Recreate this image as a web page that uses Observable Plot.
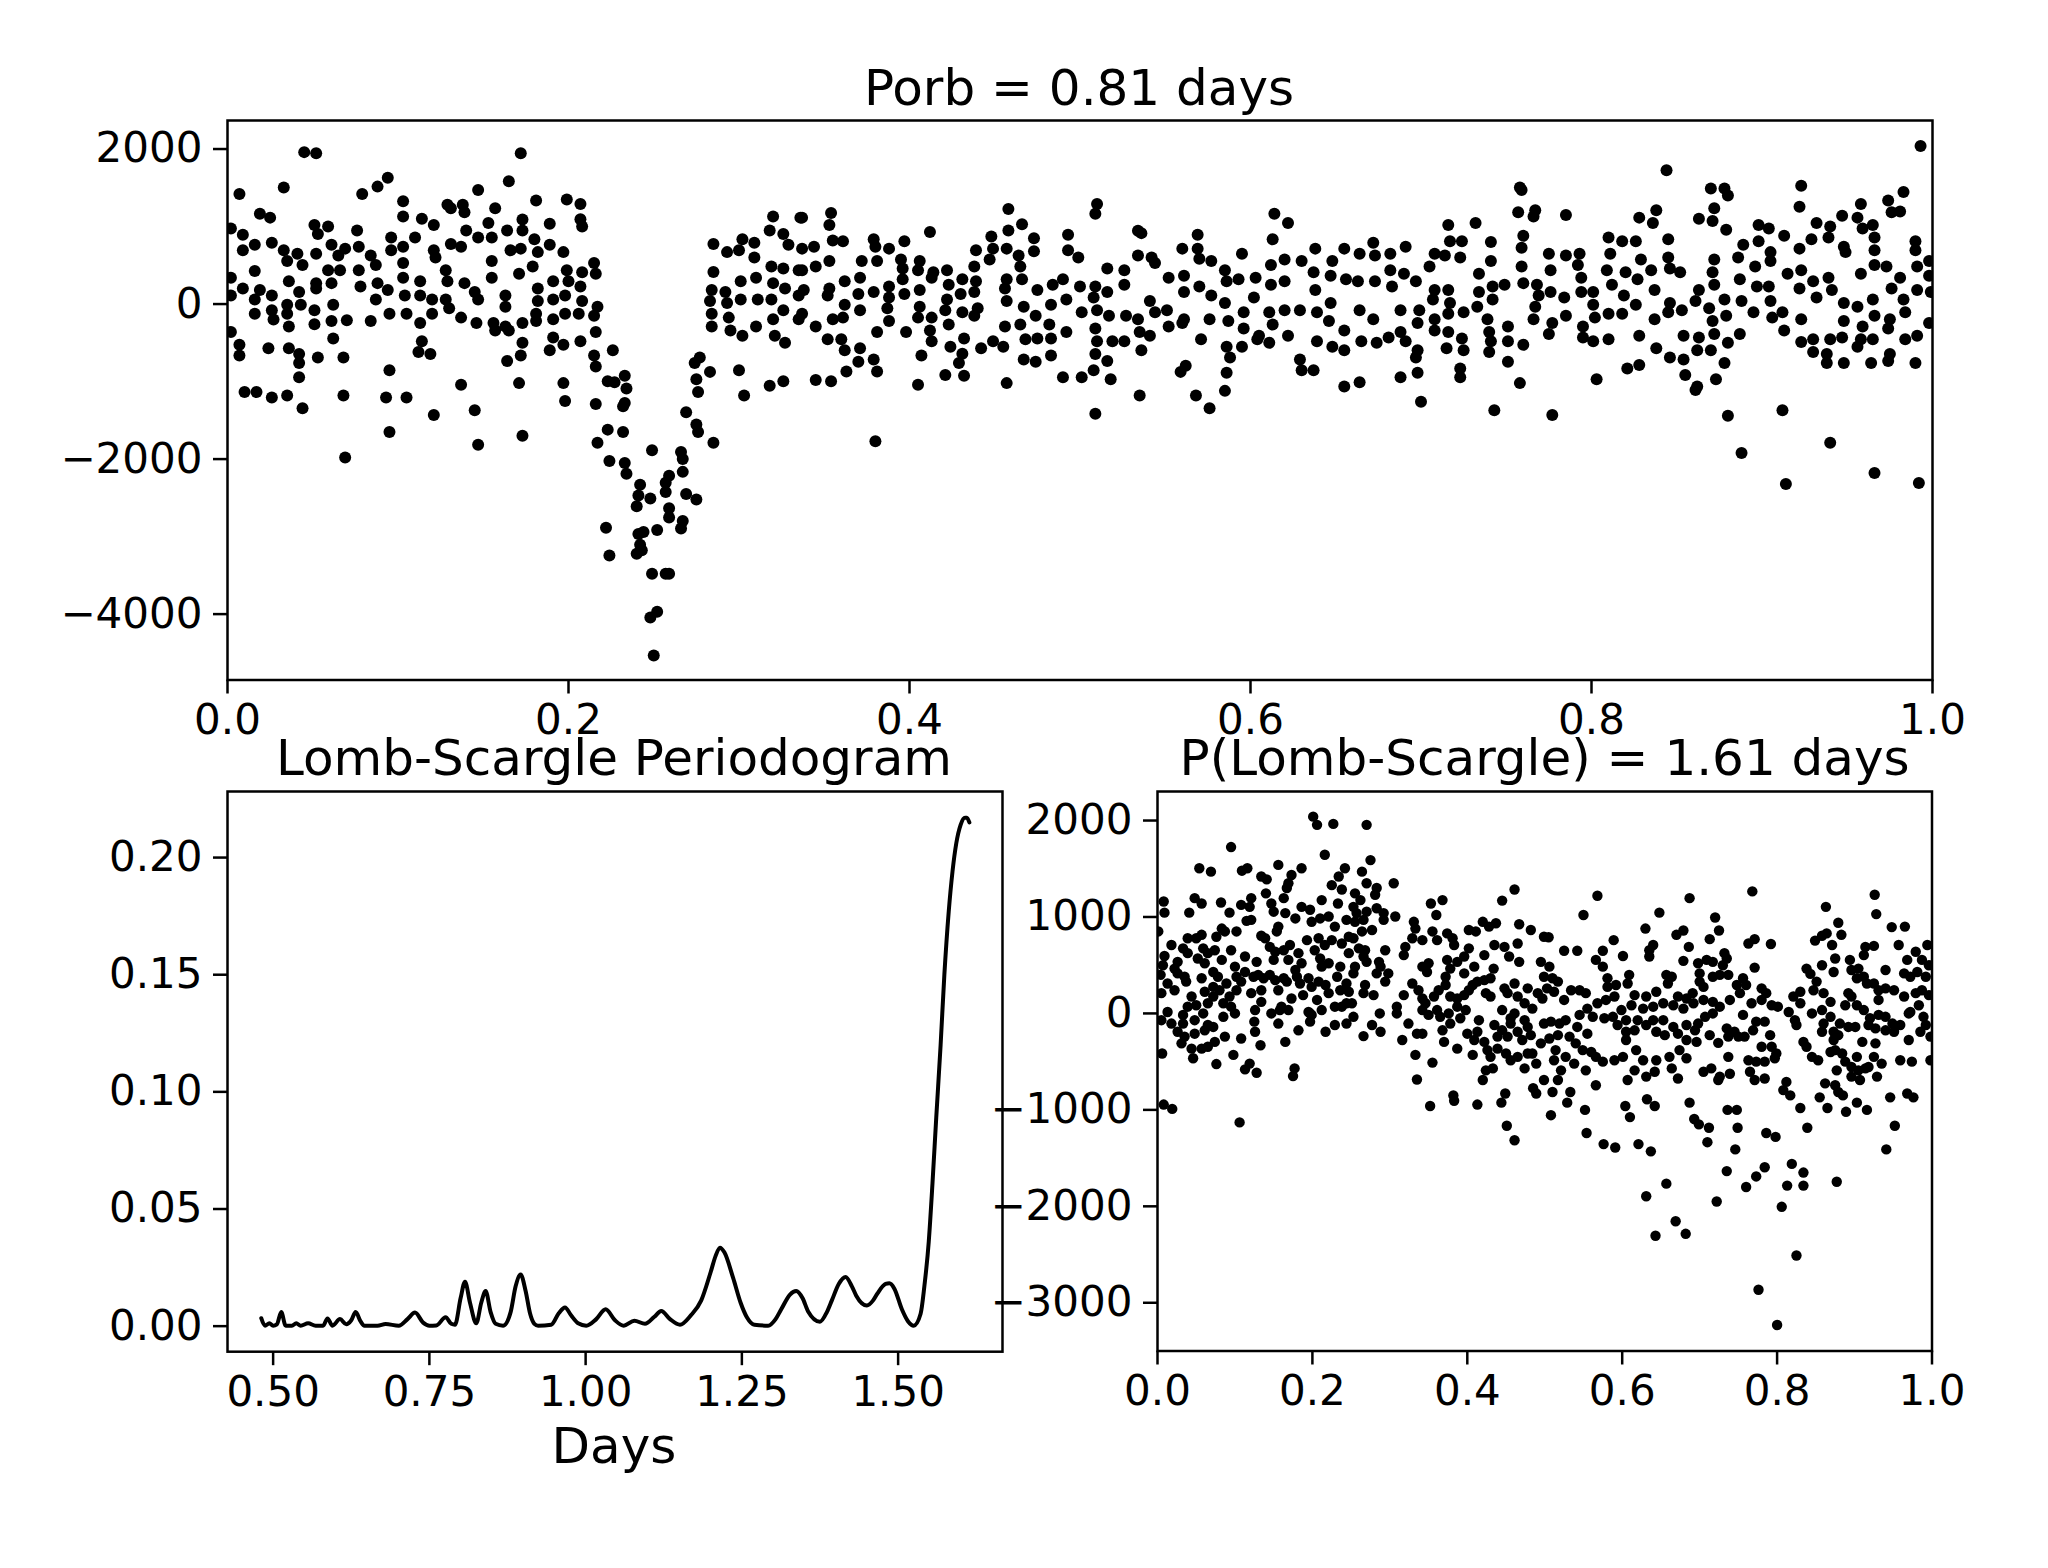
<!DOCTYPE html>
<html><head><meta charset="utf-8">
<script src="https://cdn.jsdelivr.net/npm/d3@7"></script>
<script src="https://cdn.jsdelivr.net/npm/@observablehq/plot@0.6"></script>
<style>
body{margin:0;background:#fff;}
#c{position:relative;width:2048px;height:1568px;background:#fff;font-family:"DejaVu Sans";overflow:hidden;}
.t{position:absolute;text-align:center;font-size:50px;line-height:50px;white-space:nowrap;color:#000;font-family:"DejaVu Sans";}
.p{position:absolute;}
.p svg{display:block;overflow:visible;}
</style></head><body><div id="c"></div>
<script>
// ---------- text ----------
const titleOrb = "Porb = 0.81 days";
const titleLS = "Lomb-Scargle Periodogram";
const titleLSFold = "P(Lomb-Scargle) = 1.61 days";
const xLabelLS = "Days";

// ---------- tick values ----------
const orbXTicks = [0, 0.2, 0.4, 0.6, 0.8, 1.0];
const orbYTicks = [-4000, -2000, 0, 2000];
const lsXTicks = [0.5, 0.75, 1.0, 1.25, 1.5];
const lsYTicks = [0, 0.05, 0.10, 0.15, 0.20];
const foldXTicks = [0, 0.2, 0.4, 0.6, 0.8, 1.0];
const foldYTicks = [-3000, -2000, -1000, 0, 1000, 2000];

// ---------- data: light curve folded on Porb (phase, flux) ----------
const orbFold = [
[0.002,975],[0.002,340],[0.002,110],[0.002,-360],[0.007,1420],[0.009,895],[0.009,695],[0.009,200],[0.007,-525],[0.007,-665],[0.010,-1135],
[0.016,765],[0.016,425],[0.016,60],[0.016,-125],[0.019,1165],[0.019,180],[0.025,1115],[0.026,790],[0.026,110],[0.026,-80],[0.027,-200],[0.024,-570],[0.017,-1135],[0.026,-1205],
[0.033,1505],[0.033,695],[0.035,555],[0.036,295],[0.035,-10],[0.035,-125],[0.036,-290],[0.036,-570],[0.042,-645],[0.042,-760],[0.042,-945],[0.035,-1180],[0.044,-1345],[0.041,650],[0.044,505],[0.042,155],[0.043,-10],
[0.045,1960],[0.052,1945],[0.051,1020],[0.053,905],[0.052,650],[0.052,270],[0.052,200],[0.051,-80],[0.051,-260],[0.053,-690],[0.059,1000],[0.061,765],[0.059,435],[0.061,270],[0.062,-10],[0.061,-220],[0.062,-445],[0.068,-690],[0.068,-1180],[0.069,-1980],
[0.065,625],[0.066,435],[0.069,715],[0.070,-210],[0.076,950],[0.077,740],[0.077,435],[0.078,225],[0.079,1420],[0.084,625],[0.084,-220],[0.087,505],[0.088,1515],[0.088,270],[0.087,60],[0.094,1630],[0.094,180],[0.095,-125],[0.095,-855],[0.093,-1205],[0.095,-1650],[0.096,860],[0.096,695],
[0.103,1325],[0.103,1130],[0.103,740],[0.103,530],[0.103,340],[0.104,110],[0.105,-125],[0.105,-1205],[0.110,860],[0.113,295],[0.113,110],[0.113,-245],[0.114,1100],[0.114,-480],[0.112,-620],[0.119,-645],[0.120,60],[0.120,-125],[0.121,1020],[0.121,695],[0.122,600],[0.121,-1430],
[0.129,1280],[0.131,1235],[0.131,775],[0.128,435],[0.129,295],[0.128,60],[0.130,-55],[0.137,740],[0.138,1280],[0.139,1185],[0.139,270],[0.140,950],[0.137,-175],[0.137,-1040],[0.145,155],[0.147,60],[0.146,-245],[0.145,-1370],[0.147,1470],[0.147,860],[0.147,-1815],
[0.153,1045],[0.155,860],[0.155,555],[0.155,340],[0.157,1235],[0.156,-245],[0.157,-340],[0.163,-290],[0.165,-340],[0.164,950],[0.165,1585],[0.166,695],[0.163,110],[0.163,-35],[0.164,-735],[0.171,390],[0.171,-1020],[0.172,1945],[0.173,1090],[0.173,950],[0.172,715],[0.173,-245],[0.173,-500],[0.172,-665],[0.173,-1700],
[0.181,1335],[0.180,835],[0.179,485],[0.182,670],[0.182,200],[0.182,40],[0.181,-125],[0.181,-220],[0.189,1035],[0.189,765],[0.191,295],[0.191,60],[0.191,-195],[0.191,-430],[0.189,-595],[0.197,670],[0.197,-525],[0.197,-1020],[0.198,-1250],
[0.199,1350],[0.207,1290],[0.208,1000],[0.207,1095],[0.199,435],[0.200,295],[0.198,110],[0.198,-125],[0.208,410],[0.207,225],[0.208,40],[0.206,-125],[0.207,-480],[0.215,530],[0.216,390],[0.217,-35],[0.215,-150],[0.216,-360],[0.215,-665],[0.216,-805],[0.216,-1290],[0.217,-1790],
[0.226,-595],[0.223,-995],[0.227,-1010],[0.233,-925],[0.234,-1090],[0.233,-1275],[0.232,-1320],[0.223,-1620],[0.232,-1650],[0.224,-2025],[0.233,-2050],[0.234,-2190],[0.222,-2885],[0.224,-3245],
[0.242,-2330],[0.241,-2470],[0.248,-2510],[0.240,-2610],[0.241,-2965],[0.244,-2940],[0.242,-3105],[0.243,-3175],[0.240,-3220],[0.249,-1885],[0.252,-2915],[0.249,-3480],[0.259,-3480],[0.257,-3480],[0.248,-4045],[0.252,-3970],[0.250,-4535],
[0.259,-2215],[0.257,-2305],[0.257,-2425],[0.259,-2635],[0.259,-2755],[0.266,-1910],[0.267,-2000],[0.267,-2165],[0.269,-2450],[0.275,-2520],[0.267,-2800],[0.266,-2895],[0.269,-1395],[0.275,-1555],[0.276,-1650],[0.285,-1790],
[0.277,-690],[0.274,-760],[0.275,-970],[0.276,-1135],[0.283,-875],[0.285,775],[0.285,415],[0.284,180],[0.283,40],[0.284,-125],[0.284,-290],
[0.293,670],[0.292,155],[0.293,15],[0.294,-175],[0.295,-340],[0.300,695],[0.301,295],[0.302,835],[0.301,60],[0.302,-410],[0.300,-855],[0.303,-1180],[0.309,600],[0.309,790],[0.310,340],[0.311,60],[0.310,-290],
[0.318,950],[0.320,1130],[0.319,485],[0.320,270],[0.319,60],[0.320,-195],[0.321,-410],[0.318,-1055],[0.326,905],[0.329,765],[0.326,460],[0.327,200],[0.326,-80],[0.327,-500],[0.326,-995],[0.335,435],[0.336,1115],[0.337,715],[0.335,110],[0.335,-195],[0.338,180],
[0.337,1115],[0.337,435],[0.337,-125],[0.344,740],[0.345,485],[0.345,-290],[0.345,-980],[0.354,1175],[0.353,1020],[0.355,820],[0.353,555],[0.353,200],[0.352,110],[0.355,-195],[0.352,-455],[0.354,-995],
[0.361,810],[0.362,295],[0.362,-10],[0.361,-175],[0.360,-455],[0.362,-595],[0.363,-870],[0.372,555],[0.371,340],[0.370,130],[0.371,-80],[0.371,-570],[0.370,-745],
[0.379,835],[0.380,740],[0.381,555],[0.379,155],[0.381,-360],[0.379,-715],[0.381,-870],[0.380,-1770],[0.388,715],[0.388,225],[0.388,85],[0.387,-55],[0.388,-220],
[0.397,810],[0.395,575],[0.396,460],[0.397,130],[0.396,320],[0.398,-360],[0.406,555],[0.405,435],[0.406,180],[0.406,-35],[0.405,-175],[0.407,-665],[0.405,-1040],
[0.412,930],[0.413,340],[0.413,-175],[0.412,-340],[0.413,-480],[0.414,410],[0.422,435],[0.423,250],[0.422,60],[0.421,-80],[0.423,-265],[0.424,-550],[0.421,-915],
[0.431,320],[0.430,130],[0.431,-105],[0.432,-445],[0.431,-640],[0.429,-760],[0.432,-925],[0.439,695],[0.438,485],[0.439,295],[0.438,155],[0.440,-55],[0.438,-150],[0.442,-570],
[0.448,870],[0.449,715],[0.447,575],[0.449,-480],[0.455,-550],[0.458,1225],[0.458,950],[0.457,715],[0.457,320],[0.456,200],[0.457,40],[0.456,-290],[0.457,-1020],
[0.466,1030],[0.464,625],[0.465,485],[0.466,320],[0.467,-35],[0.465,-265],[0.468,-455],[0.467,-715],[0.473,850],[0.473,680],[0.475,180],[0.474,-150],[0.475,-445],[0.474,-745],
[0.484,250],[0.483,-10],[0.482,-265],[0.483,-445],[0.483,-665],[0.490,-945],[0.493,895],[0.493,695],[0.490,320],[0.492,60],[0.492,-360],
[0.499,600],[0.500,225],[0.501,-105],[0.501,-945],[0.508,-855],[0.510,1290],[0.509,1165],[0.509,225],[0.508,85],[0.510,-80],[0.509,-315],[0.510,-480],[0.509,-645],[0.509,-1415],
[0.516,460],[0.516,155],[0.517,-150],[0.519,-480],[0.516,-735],[0.518,-970],[0.526,435],[0.526,250],[0.527,-150],[0.526,-480],
[0.534,945],[0.536,915],[0.534,625],[0.534,-195],[0.535,-360],[0.536,-595],[0.535,-1180],[0.542,600],[0.544,530],[0.541,40],[0.544,-105],[0.541,-410],
[0.552,340],[0.551,-80],[0.552,-290],[0.560,715],[0.561,365],[0.561,155],[0.561,-195],[0.560,-245],[0.559,-875],[0.562,-795],
[0.569,895],[0.569,715],[0.570,585],[0.570,225],[0.571,-455],[0.568,-1180],[0.576,-1345],[0.577,555],[0.577,110],[0.576,-195],
[0.585,435],[0.586,295],[0.585,15],[0.587,-220],[0.586,-550],[0.588,-690],[0.586,-885],[0.585,-1120],[0.595,650],[0.593,320],[0.596,-105],[0.596,-315],[0.595,-550],
[0.602,85],[0.603,340],[0.604,-455],[0.605,-410],[0.611,-500],[0.612,505],[0.612,250],[0.613,835],[0.614,1165],[0.611,-105],[0.613,-265],
[0.622,1045],[0.620,575],[0.620,295],[0.620,-80],[0.622,-410],[0.629,-715],[0.630,-855],[0.630,555],[0.629,-80],[0.637,-855],[0.638,715],[0.637,410],[0.638,180],[0.639,-105],[0.639,-480],
[0.648,555],[0.647,365],[0.647,15],[0.646,-220],[0.648,-550],[0.655,715],[0.656,320],[0.655,-340],[0.655,-595],[0.655,-1065],
[0.664,650],[0.663,295],[0.664,-80],[0.665,-480],[0.664,-1010],[0.672,790],[0.673,625],[0.673,295],[0.672,-195],[0.674,-500],
[0.681,-430],[0.682,650],[0.682,435],[0.683,225],[0.690,390],[0.691,740],[0.688,-80],[0.688,-360],[0.691,-480],[0.688,-945],
[0.697,295],[0.698,-245],[0.699,-80],[0.698,-595],[0.697,-690],[0.698,-885],[0.700,-1260],[0.705,485],[0.708,650],[0.708,180],[0.707,60],[0.708,-195],[0.708,-340],
[0.716,1020],[0.717,810],[0.714,625],[0.716,180],[0.717,15],[0.716,-125],[0.716,-360],[0.715,-570],[0.724,810],[0.723,600],[0.725,-105],[0.724,-445],[0.725,-595],[0.723,-830],[0.723,-945],
[0.732,1045],[0.734,390],[0.734,155],[0.733,-35],[0.741,800],[0.741,555],[0.742,225],[0.742,60],[0.739,-195],[0.740,-360],[0.741,-480],[0.740,-620],[0.743,-1370],
[0.749,250],[0.751,-290],[0.751,-480],[0.751,-745],[0.758,1505],[0.759,1470],[0.757,1185],[0.767,1210],[0.766,1130],[0.760,880],[0.759,725],[0.759,485],[0.760,270],[0.760,-525],[0.758,-1020],
[0.768,250],[0.767,-35],[0.766,-195],[0.769,110],[0.775,650],[0.776,435],[0.776,155],[0.777,-245],[0.775,-385],[0.777,-1430],
[0.784,85],[0.785,1150],[0.785,-150],[0.785,625],[0.793,650],[0.792,505],[0.794,340],[0.794,155],[0.795,-290],[0.795,-430],
[0.801,155],[0.801,-10],[0.802,-175],[0.801,-480],[0.803,-970],[0.810,860],[0.811,650],[0.809,435],[0.812,250],[0.810,-125],[0.810,-455],
[0.818,810],[0.820,410],[0.819,110],[0.818,-125],[0.821,-830],[0.826,810],[0.828,1115],[0.827,320],[0.829,575],[0.826,-10],[0.828,-410],[0.828,-785],
[0.836,1045],[0.838,1210],[0.835,435],[0.837,-195],[0.837,180],[0.838,-570],[0.844,1725],[0.845,835],[0.845,600],[0.846,460],[0.846,15],[0.845,-105],[0.846,-690],
[0.852,410],[0.853,-80],[0.854,-410],[0.854,-715],[0.855,-915],[0.861,-1110],[0.862,-1065],[0.863,180],[0.863,1100],[0.861,40],[0.863,-430],[0.862,-595],
[0.870,-595],[0.869,-55],[0.870,1490],[0.872,1235],[0.871,1070],[0.872,575],[0.871,410],[0.872,250],[0.871,-220],[0.872,-385],[0.873,-970],
[0.878,1490],[0.880,1400],[0.879,960],[0.878,60],[0.879,-150],[0.880,-500],[0.878,-760],[0.880,-1440],[0.888,-1920],[0.887,320],[0.886,600],[0.889,765],[0.888,40],[0.887,-385],
[0.896,485],[0.897,225],[0.895,-105],[0.898,1020],[0.898,810],[0.904,975],[0.905,670],[0.905,555],[0.904,225],[0.905,40],[0.906,-175],
[0.913,880],[0.912,-105],[0.913,-340],[0.912,-1370],[0.914,-2320],[0.915,390],[0.922,715],[0.923,1525],[0.922,1255],[0.923,435],[0.922,200],[0.923,-195],[0.923,-490],
[0.932,1045],[0.929,835],[0.930,295],[0.932,85],[0.930,-455],[0.930,-620],[0.938,-645],[0.938,-760],[0.939,860],[0.940,1000],[0.939,340],[0.941,180],[0.940,-455],[0.940,-1790],
[0.947,1140],[0.948,740],[0.949,670],[0.948,15],[0.948,-220],[0.947,-430],[0.948,-760],[0.956,1115],[0.958,1290],[0.959,975],[0.958,390],[0.956,-35],[0.959,-290],[0.956,-550],[0.958,-455],
[0.965,1020],[0.966,860],[0.966,695],[0.966,505],[0.965,60],[0.966,-150],[0.965,-455],[0.964,-760],[0.966,-2180],[0.974,1335],[0.976,1185],[0.975,-195],[0.974,-315],[0.975,-645],[0.974,-735],[0.973,485],[0.976,200],
[0.983,1445],[0.981,1195],[0.981,340],[0.983,60],[0.984,-105],[0.984,-455],[0.990,810],[0.990,695],[0.991,485],[0.991,180],[0.991,-410],[0.990,-760],[0.992,-2310],[0.993,2040],
[0.998,555],[0.998,365],[0.999,155],[0.998,-245]
];

// ---------- data: Lomb-Scargle periodogram (period in days, power) ----------
const lsPeriod = [
0.481,0.487,0.494,0.500,0.506,0.513,0.520,0.530,0.537,0.544,
0.556,0.568,0.580,0.587,0.595,0.607,0.617,0.625,0.632,0.640,
0.646,0.667,0.680,0.701,0.715,0.727,0.740,0.750,0.761,0.776,
0.785,0.791,0.800,0.807,0.815,0.825,0.833,0.840,0.848,0.856,
0.868,0.880,0.888,0.896,0.904,0.911,0.918,0.924,0.945,0.957,
0.967,0.977,0.988,1.001,1.017,1.032,1.047,1.061,1.078,1.095,
1.110,1.121,1.135,1.151,1.168,1.185,1.200,1.208,1.215,1.222,
1.236,1.248,1.258,1.270,1.292,1.304,1.313,1.327,1.337,1.347,
1.356,1.375,1.386,1.394,1.405,1.416,1.426,1.433,1.450,1.460,
1.467,1.480,1.486,1.494,1.506,1.516,1.525,1.536,1.542,1.549,
1.555,1.561,1.568,1.574,1.581,1.587,1.593,1.600,1.607,1.610,
1.614
];
const lsPower = [
0.0034,0.0002,0.0012,0.0002,0.0008,0.0060,0.0002,0.0002,0.0012,0.0002,
0.0012,0.0002,0.0002,0.0033,0.0002,0.0030,0.0008,0.0025,0.0060,0.0020,
0.0002,0.0002,0.0009,0.0002,0.0030,0.0058,0.0015,0.0002,0.0003,0.0038,
0.0010,0.0006,0.0120,0.0190,0.0100,0.0012,0.0100,0.0150,0.0060,0.0010,
0.0002,0.0060,0.0170,0.0220,0.0150,0.0055,0.0010,0.0002,0.0006,0.0055,
0.0080,0.0045,0.0012,0.0002,0.0030,0.0072,0.0025,0.0002,0.0023,0.0010,
0.0040,0.0065,0.0030,0.0006,0.0045,0.0110,0.0230,0.0300,0.0335,0.0315,
0.0206,0.0100,0.0038,0.0006,0.0002,0.0030,0.0072,0.0135,0.0150,0.0120,
0.0063,0.0019,0.0060,0.0110,0.0180,0.0210,0.0170,0.0130,0.0088,0.0110,
0.0140,0.0180,0.0183,0.0160,0.0072,0.0020,0.0002,0.0053,0.0170,0.0360,
0.0610,0.0890,0.1200,0.1500,0.1770,0.1940,0.2060,0.2140,0.2170,0.2170,
0.2150
];

// ---------- data: light curve folded on the Lomb-Scargle period (phase, flux) ----------
const lsFoldOutliers = [
[0.095,1725],[0.201,2040],[0.206,1955],[0.227,1965],[0.270,1955],
[0.008,-945],[0.019,-990],[0.106,-1130],[0.352,-960],[0.382,-850],[0.383,-905],[0.413,-945],[0.444,-925],[0.449,-830],[0.451,-1165],[0.461,-1315],[0.485,-775],[0.489,-830],
[0.508,-1055],[0.510,-815],[0.529,-925],[0.533,-815],[0.552,-1000],[0.554,-1240],[0.576,-1355],[0.591,-1390],[0.604,-960],[0.610,-1075],[0.621,-1355],[0.631,-1895],
[0.632,-890],[0.637,-1430],[0.642,-960],[0.643,-2305],[0.657,-1765],[0.669,-2155],[0.682,-2285],[0.687,-925],[0.693,-1095],[0.699,-1150],[0.710,-1335],[0.712,-1185],
[0.722,-1950],[0.735,-1635],[0.736,-1000],[0.746,-1410],[0.748,-1000],[0.749,-1185],[0.760,-1800],[0.773,-1690],[0.776,-2865],[0.784,-1595],[0.786,-1240],[0.798,-1280],
[0.800,-3230],[0.806,-2005],[0.808,-795],[0.813,-1785],[0.817,-850],[0.819,-1560],[0.825,-2510],[0.830,-980],[0.834,-1650],[0.834,-1785],[0.839,-1185],[0.855,-870],
[0.865,-980],[0.877,-1745],[0.879,-815],[0.885,-850],[0.889,-1020],[0.903,-925],[0.916,-1000],[0.941,-1410],[0.946,-870],[0.952,-1165],[0.968,-830],[0.976,-870]
];
const lsFoldCore = [
// phase 0.00 - 0.25
[0.216,1645],[0.054,1505],[0.069,1470],[0.109,1480],[0.116,1505],[0.156,1540],[0.186,1505],[0.173,1435],[0.242,1505],[0.234,1420],
[0.134,1420],[0.141,1390],[0.169,1350],[0.167,1300],[0.225,1330],[0.238,1285],[0.140,1245],[0.048,1195],[0.057,1140],[0.008,1160],
[0.009,1045],[0.041,1045],[0.082,1150],[0.093,1045],[0.108,1125],[0.121,1195],[0.119,1105],[0.121,970],[0.115,960],[0.147,1140],
[0.150,1055],[0.163,1195],[0.165,1040],[0.178,985],[0.186,1105],[0.197,1075],[0.212,1175],[0.233,1140],[0.199,950],[0.210,985],
[0.221,1005],[0.229,900],[0.244,970],[0.156,900],[0.154,850],[0.139,780],[0.134,805],[0.102,850],[0.083,880],[0.087,850],
[0.076,795],[0.057,815],[0.039,780],[0.050,780],[0.001,850],[0.018,710],[0.009,595],[0.007,500],[0.033,675],[0.039,625],
[0.026,535],[0.022,465],[0.059,675],[0.065,625],[0.074,655],[0.083,555],[0.061,520],[0.052,570],[0.095,655],[0.113,590],
[0.128,535],[0.145,690],[0.152,640],[0.163,655],[0.171,710],[0.169,555],[0.150,555],[0.182,625],[0.186,520],[0.193,760],
[0.208,780],[0.203,655],[0.216,710],[0.225,760],[0.238,725],[0.247,795],[0.210,570],[0.221,520],[0.212,485],[0.236,485],
[0.247,625],[0.244,310],[0.004,400],[0.013,310],[0.005,210],[0.026,415],[0.035,380],[0.037,330],[0.022,240],[0.057,365],
[0.072,430],[0.078,380],[0.072,275],[0.080,240],[0.089,310],[0.100,485],[0.102,380],[0.113,430],[0.108,330],[0.124,380],
[0.130,400],[0.137,365],[0.134,240],[0.145,400],[0.152,345],[0.163,365],[0.167,330],[0.156,240],[0.178,450],[0.180,380],
[0.184,310],[0.195,365],[0.199,275],[0.208,330],[0.217,295],[0.221,210],[0.232,380],[0.236,240],[0.247,225],[0.244,105],
[0.238,70],[0.229,70],[0.212,35],[0.199,-15],[0.195,15],[0.206,140],[0.188,190],[0.173,155],[0.160,70],[0.147,0],
[0.158,35],[0.169,35],[0.156,-105],[0.126,35],[0.125,-85],[0.126,-190],[0.134,120],[0.121,210],[0.102,240],[0.093,175],
[0.085,105],[0.095,70],[0.100,0],[0.085,-35],[0.072,175],[0.061,225],[0.065,105],[0.050,85],[0.044,175],[0.039,70],
[0.059,0],[0.013,15],[0.005,-70],[0.018,-105],[0.033,-15],[0.033,-105],[0.026,-190],[0.035,-240],[0.048,-70],[0.048,-210],
[0.065,-120],[0.072,-140],[0.061,-175],[0.031,-310],[0.044,-365],[0.057,-365],[0.065,-345],[0.074,-295],[0.087,-240],[0.098,-430],
[0.108,-260],[0.006,-415],[0.046,-465],[0.076,-525],[0.113,-580],[0.119,-520],[0.128,-615],[0.133,-330],[0.165,-295],[0.182,-175],
[0.177,-570],[0.175,-650],[0.197,0],[0.197,-85],[0.217,-190],[0.229,-120],[0.244,-105],
// phase 0.25 - 0.50
[0.275,1590],[0.264,1470],[0.255,1245],[0.270,1350],[0.283,1300],[0.305,1350],[0.281,1230],[0.262,1175],[0.253,1105],[0.257,1040],
[0.270,1055],[0.283,1090],[0.292,1040],[0.292,970],[0.307,1005],[0.266,970],[0.255,950],[0.277,865],[0.264,850],[0.253,780],
[0.353,1140],[0.368,1175],[0.360,1020],[0.331,950],[0.333,880],[0.329,780],[0.342,760],[0.355,850],[0.374,830],[0.381,780],
[0.383,710],[0.361,760],[0.402,865],[0.411,850],[0.420,950],[0.428,900],[0.437,935],[0.461,1285],[0.445,1170],[0.467,925],
[0.465,725],[0.482,865],[0.499,795],[0.435,710],[0.448,690],[0.454,590],[0.422,605],[0.402,675],[0.396,590],[0.387,535],
[0.374,555],[0.378,465],[0.372,380],[0.350,520],[0.342,485],[0.320,690],[0.318,605],[0.348,430],[0.260,675],[0.268,655],
[0.294,655],[0.266,590],[0.270,535],[0.286,535],[0.255,485],[0.253,415],[0.288,485],[0.283,415],[0.298,415],[0.294,330],
[0.268,295],[0.266,210],[0.279,190],[0.251,105],[0.253,-35],[0.287,0],[0.277,-120],[0.288,-190],[0.266,-235],[0.329,310],
[0.318,190],[0.337,240],[0.342,155],[0.346,105],[0.357,175],[0.363,240],[0.372,295],[0.378,175],[0.387,155],[0.396,190],
[0.402,240],[0.407,295],[0.413,330],[0.422,345],[0.430,365],[0.396,415],[0.409,485],[0.434,465],[0.424,210],[0.430,175],
[0.448,260],[0.461,310],[0.452,210],[0.465,175],[0.478,260],[0.491,210],[0.497,155],[0.474,105],[0.484,50],[0.495,535],
[0.499,380],[0.467,535],[0.309,70],[0.309,0],[0.324,-105],[0.316,-275],[0.335,-210],[0.342,-210],[0.342,35],[0.350,-15],
[0.361,35],[0.365,-35],[0.376,0],[0.387,70],[0.398,35],[0.391,-50],[0.378,-105],[0.368,-175],[0.370,-295],[0.387,-365],
[0.333,-430],[0.355,-510],[0.335,-685],[0.400,-210],[0.415,-70],[0.413,-190],[0.409,-275],[0.407,-430],[0.422,-295],[0.426,-380],
[0.430,-450],[0.433,-570],[0.424,-590],[0.420,-690],[0.439,-240],[0.435,-120],[0.445,-175],[0.452,-240],[0.456,-105],[0.445,35],
[0.456,-50],[0.461,0],[0.465,-190],[0.474,-70],[0.478,-140],[0.482,-225],[0.471,-275],[0.484,-415],[0.489,-520],[0.474,-570],
[0.456,-485],[0.465,-450],[0.495,-310],[0.499,-105],[0.478,-415],[0.499,-690],[0.450,-415],[0.439,-365],
// phase 0.50 - 0.75
[0.568,1220],[0.550,1020],[0.687,1195],[0.648,1045],[0.720,995],[0.630,880],[0.670,815],[0.679,860],[0.725,860],[0.713,770],
[0.505,790],[0.589,760],[0.640,710],[0.635,655],[0.686,690],[0.635,590],[0.525,650],[0.542,650],[0.575,650],[0.601,595],
[0.566,555],[0.575,485],[0.679,545],[0.698,520],[0.709,555],[0.717,535],[0.732,625],[0.735,570],[0.730,500],[0.506,485],
[0.510,365],[0.517,330],[0.503,260],[0.512,225],[0.534,240],[0.545,240],[0.553,210],[0.581,365],[0.581,275],[0.592,295],
[0.609,400],[0.607,310],[0.657,400],[0.664,380],[0.659,310],[0.672,175],[0.700,415],[0.700,330],[0.717,380],[0.726,400],
[0.737,400],[0.748,295],[0.705,275],[0.691,210],[0.683,155],[0.525,140],[0.568,105],[0.579,140],[0.590,175],[0.599,35],
[0.616,190],[0.631,175],[0.644,225],[0.653,105],[0.640,70],[0.627,50],[0.620,-70],[0.612,85],[0.666,85],[0.679,50],
[0.692,105],[0.705,140],[0.717,120],[0.726,70],[0.739,140],[0.752,210],[0.545,-15],[0.555,50],[0.562,-35],[0.577,-50],
[0.588,-35],[0.594,-120],[0.605,-70],[0.605,-190],[0.616,-175],[0.631,-120],[0.640,-70],[0.653,-70],[0.644,-190],[0.655,-225],
[0.666,-140],[0.672,-210],[0.683,-120],[0.694,-175],[0.698,-105],[0.707,-35],[0.717,0],[0.735,-155],[0.745,-190],[0.750,-240],
[0.737,-240],[0.713,-225],[0.724,-305],[0.508,-85],[0.519,-105],[0.527,-70],[0.542,-140],[0.555,-210],[0.517,-225],[0.506,-260],
[0.532,-240],[0.540,-310],[0.514,-380],[0.527,-450],[0.512,-485],[0.521,-590],[0.538,-520],[0.549,-380],[0.560,-400],[0.553,-590],
[0.566,-450],[0.575,-500],[0.590,-485],[0.601,-450],[0.605,-275],[0.618,-380],[0.627,-485],[0.616,-590],[0.607,-690],[0.631,-655],
[0.642,-605],[0.644,-485],[0.661,-450],[0.664,-570],[0.674,-380],[0.683,-465],[0.683,-275],[0.696,-295],[0.705,-605],[0.715,-570],
[0.726,-655],[0.737,-450],[0.739,-625],[0.724,-690],[0.672,-675],[0.566,-745],[0.517,-690],
// phase 0.75 - 1.00
[0.768,1265],[0.926,1230],[0.863,1105],[0.928,1030],[0.879,940],[0.948,895],[0.965,900],[0.864,830],[0.858,805],[0.849,755],
[0.883,815],[0.871,710],[0.763,725],[0.771,770],[0.792,720],[0.914,690],[0.925,700],[0.957,710],[0.994,710],[0.979,640],
[0.912,605],[0.875,570],[0.894,555],[0.968,555],[0.987,555],[0.996,500],[0.771,475],[0.838,465],[0.858,500],[0.843,410],
[0.873,430],[0.896,450],[0.905,465],[0.940,450],[0.964,415],[0.972,380],[0.981,430],[0.992,380],[0.903,365],[0.912,380],
[0.916,310],[0.925,310],[0.756,365],[0.760,295],[0.780,260],[0.786,210],[0.851,330],[0.847,240],[0.830,225],[0.821,175],
[0.860,210],[0.869,120],[0.892,210],[0.896,175],[0.888,85],[0.903,85],[0.931,240],[0.940,260],[0.951,240],[0.931,140],
[0.964,175],[0.979,210],[0.987,240],[0.996,190],[0.983,85],[0.972,15],[0.767,105],[0.780,140],[0.793,85],[0.801,70],
[0.815,15],[0.830,105],[0.845,0],[0.858,35],[0.869,-35],[0.881,-105],[0.892,-140],[0.901,-140],[0.912,35],[0.920,-50],
[0.931,-15],[0.940,-35],[0.949,-105],[0.959,-120],[0.951,-190],[0.940,-175],[0.927,-155],[0.918,-120],[0.970,0],[0.989,-35],
[0.992,-120],[0.985,-190],[0.998,-240],[0.756,-15],[0.758,-240],[0.773,-85],[0.784,-85],[0.769,-175],[0.791,-225],[0.823,-70],
[0.825,-120],[0.860,-105],[0.858,-190],[0.873,-190],[0.879,-225],[0.873,-275],[0.834,-295],[0.838,-345],[0.780,-345],[0.793,-345],
[0.799,-415],[0.797,-465],[0.763,-485],[0.773,-500],[0.784,-500],[0.765,-605],[0.771,-690],[0.784,-675],[0.812,-710],[0.845,-450],
[0.853,-485],[0.869,-400],[0.875,-380],[0.884,-415],[0.888,-500],[0.877,-590],[0.896,-555],[0.903,-450],[0.905,-590],[0.914,-570],
[0.918,-555],[0.925,-450],[0.929,-655],[0.935,-520],[0.910,-295],[0.927,-310],[0.959,-485],[0.974,-500],[0.970,-275],[0.998,-485],
[0.862,-725],[0.875,-745],[0.896,-655],[0.907,-690]
];

// ---------- rendering ----------
const ML = 200, MR = 30, MT = 10, MB = 70;
const root = document.getElementById("c");
const fmt1 = d3.format(".1f"), fmt2 = d3.format(".2f"), fmtInt = d3.format("d");

function panel(o) {
  const svg = Plot.plot({
    width: ML + o.fw + MR,
    height: MT + o.fh + MB,
    marginLeft: ML, marginRight: MR, marginTop: MT, marginBottom: MB,
    style: {fontFamily: "DejaVu Sans", fontSize: "42px", background: "transparent", overflow: "visible", color: "black"},
    x: {domain: o.xDomain, label: null},
    y: {domain: o.yDomain, label: null},
    marks: [
      ...o.marks,
      Plot.axisX(o.xTicks, {tickSize: 14, tickPadding: 10, strokeWidth: 2.5, tickFormat: o.xFmt, label: null}),
      Plot.axisY(o.yTicks, {tickSize: 14, tickPadding: 11, strokeWidth: 2.5, tickFormat: o.yFmt, label: null}),
      Plot.frame({stroke: "black", strokeWidth: 2.5})
    ]
  });
  const wrap = document.createElement("div");
  wrap.className = "p";
  wrap.style.left = (o.left - ML) + "px";
  wrap.style.top = (o.top - MT) + "px";
  wrap.appendChild(svg);
  root.appendChild(wrap);
}

function title(text, cx, top) {
  const d = document.createElement("div");
  d.className = "t";
  d.textContent = text;
  d.style.left = (cx - 700) + "px";
  d.style.width = "1400px";
  d.style.top = top + "px";
  root.appendChild(d);
}

// top: fold on orbital period
panel({
  left: 226.6, top: 119.5, fw: 1705, fh: 559.5,
  xDomain: [0, 1], yDomain: [-4850, 2368],
  xTicks: orbXTicks, yTicks: orbYTicks, xFmt: fmt1, yFmt: fmtInt,
  marks: [Plot.dot(orbFold, {x: d => d[0], y: d => d[1], r: 6, fill: "black", clip: true})]
});

// bottom-left: periodogram
const lsData = lsPeriod.map((p, i) => ({p, w: lsPower[i]}));
panel({
  left: 226.8, top: 791.3, fw: 775, fh: 560.2,
  xDomain: [0.427, 1.667], yDomain: [-0.0109, 0.2282],
  xTicks: lsXTicks, yTicks: lsYTicks, xFmt: fmt2, yFmt: fmt2,
  marks: [Plot.line(lsData, {x: "p", y: "w", stroke: "black", strokeWidth: 4, curve: "monotone-x"})]
});

// bottom-right: fold on LS period
const lsFold = lsFoldOutliers.concat(lsFoldCore);
panel({
  left: 1157.3, top: 791.3, fw: 774.5, fh: 559.5,
  xDomain: [0, 1], yDomain: [-3500, 2301],
  xTicks: foldXTicks, yTicks: foldYTicks, xFmt: fmt1, yFmt: fmtInt,
  marks: [Plot.dot(lsFold, {x: d => d[0], y: d => d[1], r: 5.2, fill: "black", clip: true})]
});

title(titleOrb, 1079, 62.5);
title(titleLS, 614, 732.5);
title(titleLSFold, 1544.6, 732.5);
title(xLabelLS, 614, 1420.5);
</script></body></html>
